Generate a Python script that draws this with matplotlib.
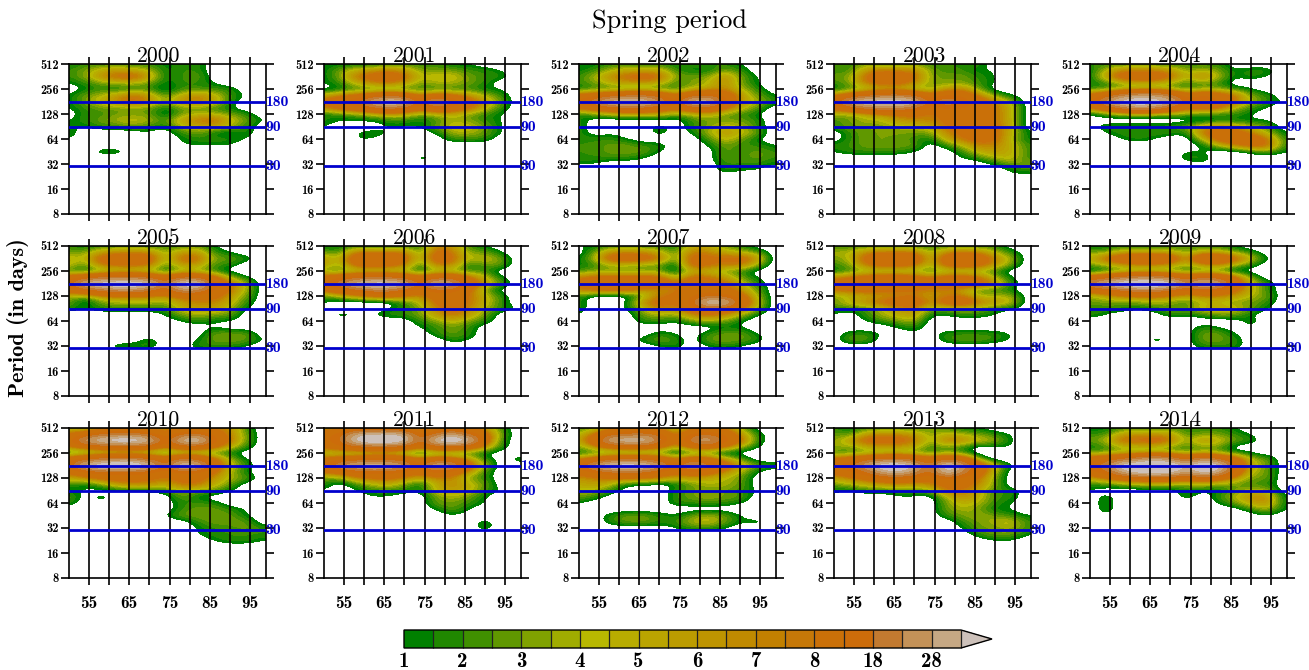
import numpy as np
import matplotlib
matplotlib.use("Agg")
import matplotlib.pyplot as plt
from matplotlib.colors import BoundaryNorm, ListedColormap
from matplotlib.cm import ScalarMappable

# wavelet power, rows from period 512 downwards in quarter octaves,
# columns are day 50, 54, ... 98. Rows left out are empty.
DAYS = np.arange(50, 99, 4)
LOG_PERIODS = 9 - 0.25 * np.arange(20)

P2000 = [[1,2,2,2,2,2,1,2,2,0,0,0,0],[2,3,5,6,5,4,1,2,2,0,0,0,0],[2,3,7,9,10,6,1,2,3,0,0,0,0],[1,2,3,4,4,3,1,2,2,1,0,0,0],
         [0,1,2,1,2,2,0,2,2,2,2,0,0],[1,3,4,6,8,6,2,5,7,5,2,1,0],[1,3,5,7,10,7,3,7,8,6,2,0,0],[1,2,3,3,3,3,1,3,3,2,1,0,0],
         [0,2,2,3,3,3,0,3,4,4,3,2,0],[1,2,3,4,5,4,2,6,8,9,5,3,1],[1,1,2,2,3,2,1,4,5,6,4,2,0],[2,0,0,0,0,1,0,2,3,1,0,2,0],
         [1,0,0,0,0,0,0,1,2,2,2,1,0],[0,0,0,0,0,0,0,1,1,1,1,0,0],[0,0,2,2,0,0,0,0,0,0,0,0,0]]
P2001 = [[1,1,1,1,2,2,2,2,1,1,0,0,0],[1,3,5,6,7,6,3,3,3,2,2,1,0],[1,3,8,10,12,9,4,5,5,3,2,2,0],[1,2,5,7,8,6,3,4,4,3,2,0,0],
         [0,1,2,2,2,2,2,2,2,2,1,1,0],[5,7,8,10,13,11,6,9,8,6,4,2,0],[9,12,18,30,42,36,12,34,18,10,6,3,0],[7,10,12,16,22,16,9,16,12,9,5,2,0],
         [1,2,3,4,5,5,3,4,5,3,2,1,0],[2,1,1,1,2,2,1,2,4,3,2,1,0],[1,0,0,0,1,1,1,3,5,5,3,1,0],[1,0,1,2,1,0,0,1,4,4,3,1,0],
         [1,0,1,1,0,0,0,0,2,2,2,0,0],[0,0,1,0,0,0,0,0,0,0,0,0,0],[0,0,1,0,0,0,0,0,0,2,0,0,0],[0,0,0,0,0,0,2,1,0,0,0,0,0]]
P2002 = [[1,1,2,2,2,2,1,2,2,2,1,0,0],[1,2,4,5,5,5,2,1,1,3,2,0,0],[2,4,7,9,11,9,3,3,3,7,3,1,0],[2,3,5,6,6,5,2,3,4,7,3,1,0],
         [1,2,2,2,2,2,2,4,5,7,4,2,0],[9,11,13,16,18,14,7,14,16,12,6,3,1],[13,24,36,40,38,26,10,38,38,14,6,4,2],[9,11,14,18,16,13,8,14,15,9,5,3,0],
         [1,3,4,5,5,5,3,4,5,3,2,1,0],[2,0,0,0,0,0,0,2,3,3,3,2,0],[2,0,0,0,0,2,0,2,3,5,4,2,0],[2,0,1,0,0,2,0,1,4,6,5,3,0],
         [2,2,2,1,0,0,0,0,2,5,3,1,0],[2,2,3,3,2,2,0,0,1,3,2,2,1],[2,2,3,3,3,1,0,0,0,3,2,3,2],[2,2,2,2,1,0,0,2,0,3,2,3,2],
         [1,1,0,0,0,0,0,0,0,2,2,2,1],[0,0,0,0,0,0,0,0,0,2,1,1,0]]
P2003 = [[2,2,3,2,2,3,2,2,2,2,0,0,0],[2,2,6,8,7,7,3,2,2,1,1,0,0],[3,3,9,11,11,9,3,3,3,2,1,0,0],[2,3,8,10,10,7,3,3,3,2,1,0,0],
         [1,2,3,4,4,3,3,6,7,3,0,0,0],[6,10,14,18,20,16,8,13,12,7,3,1,0],[14,32,40,42,42,36,14,28,16,11,7,4,0],[9,14,20,24,24,18,10,14,13,11,8,5,0],
         [4,3,5,6,8,9,7,9,11,11,8,5,0],[2,3,4,4,6,7,7,9,10,10,8,5,0],[2,3,3,3,4,4,5,8,10,10,9,5,0],[0,2,3,3,3,3,3,7,9,10,9,5,1],
         [0,2,3,3,3,2,1,5,8,10,9,4,1],[2,2,3,3,3,3,0,2,4,7,7,5,2],[1,2,2,2,2,1,0,0,2,5,6,5,2],[0,0,0,0,0,0,0,0,1,2,4,5,2],
         [0,0,0,0,0,0,2,0,0,0,1,3,3],[0,0,0,0,0,0,0,0,0,0,0,1,2],[0,0,0,0,0,0,0,0,0,0,0,1,0],[0,0,0,0,0,0,0,0,0,0,0,1,0]]
P2004 = [[2,2,2,2,2,2,2,2,2,0,0,0,0],[1,4,7,7,7,6,3,4,3,1,2,2,0],[1,6,11,12,12,9,4,8,4,1,2,1,0],[1,2,4,5,5,4,2,3,2,0,0,0,0],
         [2,2,3,3,3,3,2,3,3,2,1,0,0],[9,13,22,28,28,20,9,14,11,8,3,2,0],[10,28,40,42,40,34,14,20,13,8,4,2,1],[8,12,20,28,24,15,8,10,8,4,2,1,0],
         [0,2,3,3,3,3,3,2,2,2,1,0,0],[1,0,0,0,0,0,0,0,1,1,1,1,0],[0,2,2,2,2,2,3,6,7,6,4,3,0],[0,1,2,2,2,2,1,8,11,11,7,4,1],
         [0,0,1,2,1,0,0,4,10,12,12,8,2],[0,0,0,0,0,0,0,1,4,7,10,9,2],[0,0,0,0,0,0,1,1,0,0,1,3,1],[0,0,0,0,0,0,2,2,0,0,0,0,0],
         [0,0,0,0,0,0,0,1,0,0,0,0,0]]
P2005 = [[2,1,2,2,2,2,2,2,3,1,0,0,0],[3,3,6,7,7,7,3,6,6,2,1,0,0],[5,4,10,11,12,11,3,9,9,3,3,2,0],[5,2,8,9,9,8,2,6,6,2,2,0,0],
         [2,1,2,3,3,3,1,3,3,2,0,0,0],[10,13,16,18,18,15,9,16,14,9,4,1,0],[14,34,42,44,44,40,16,44,42,14,8,4,0],[11,15,20,26,26,20,12,28,24,13,8,4,0],
         [4,3,6,7,7,7,6,9,10,10,6,3,0],[3,0,3,4,4,4,3,6,7,7,5,2,0],[2,1,2,2,2,2,2,5,6,6,4,1,0],[0,0,0,0,0,0,1,3,4,3,3,0,0],
         [0,0,0,0,0,0,0,1,2,1,1,0,0],[0,0,0,0,0,0,0,0,0,1,0,0,0],[0,0,0,0,0,0,0,0,0,3,3,3,0],[0,0,0,0,0,2,0,0,1,3,3,3,1],
         [0,1,0,2,2,2,0,0,2,2,2,1,0]]
P2006 = [[1,1,2,1,1,2,1,7,6,2,1,0,0],[3,2,8,8,8,8,2,10,8,3,3,1,0],[6,4,12,12,12,10,3,11,9,4,5,3,0],[6,3,10,11,10,8,1,8,7,1,3,3,0],
         [3,2,3,3,3,3,1,3,3,2,2,0,0],[9,12,15,16,16,14,8,14,13,8,5,1,0],[13,22,36,42,42,34,14,38,30,12,6,3,0],[9,13,16,22,22,16,10,17,15,9,3,0,0],
         [2,4,6,8,9,8,6,10,11,8,5,2,0],[1,0,0,0,0,2,4,9,11,8,5,2,0],[1,0,0,0,1,2,3,7,10,7,4,2,1],[0,2,1,1,2,2,3,6,8,6,3,0,0],
         [0,0,0,0,0,0,2,3,5,3,2,0,0],[0,0,0,0,0,0,1,2,3,2,0,0,0],[0,0,0,0,0,0,0,2,3,2,0,0,0],[0,0,0,0,0,0,0,0,2,1,0,0,0]]
P2007 = [[1,1,2,2,2,2,1,5,5,3,2,0,0],[0,3,7,7,7,5,2,8,7,5,4,3,0],[1,4,11,11,11,8,2,10,9,9,10,7,0],[1,2,4,4,3,3,0,10,9,7,8,4,0],
         [2,3,3,3,3,3,0,5,4,3,2,0,0],[7,9,9,9,9,9,3,9,8,6,3,1,0],[10,13,15,15,14,13,8,12,10,9,5,2,0],[7,9,9,9,6,6,7,11,11,10,6,3,0],
         [2,0,0,0,3,8,9,12,16,14,10,4,0],[2,0,0,1,7,10,8,14,42,36,13,5,0],[2,0,0,1,4,8,6,11,14,12,8,4,0],[1,0,0,0,3,4,3,7,8,7,4,1,0],
         [0,0,0,0,2,2,1,3,4,3,1,0,0],[0,0,0,0,0,0,0,0,0,1,1,0,0],[0,0,0,0,0,2,1,0,2,3,3,1,0],[0,0,0,0,2,3,2,0,3,3,3,2,0],
         [0,0,0,0,0,1,2,0,1,2,1,0,0]]
P2008 = [[2,2,2,2,2,2,2,2,2,2,2,0,0],[4,4,7,8,8,8,3,7,8,7,4,2,0],[3,4,10,12,12,12,4,11,13,12,7,4,0],[2,3,8,10,10,9,3,10,11,10,6,3,0],
         [1,2,3,3,3,3,2,3,3,3,2,0,0],[6,8,10,11,11,10,7,10,10,8,4,1,0],[11,12,13,14,14,13,11,13,13,11,7,2,0],[8,9,10,9,8,8,7,7,5,2,2,1,0],
         [3,4,5,6,7,8,5,8,8,4,4,4,0],[3,5,7,9,11,12,6,11,12,8,6,5,0],[2,2,2,4,6,7,3,3,4,3,2,1,0],[1,0,2,4,5,6,1,1,2,2,1,0,0],
         [0,0,1,2,3,4,0,0,0,0,0,0,0],[0,0,0,0,1,2,0,0,0,0,0,0,0],[0,2,2,1,0,1,0,2,2,2,2,1,0],[0,3,3,0,0,0,0,2,3,3,2,1,0]]
P2009 = [[1,1,2,2,2,2,2,2,2,1,0,0,0],[3,3,5,5,5,5,3,5,5,3,2,0,0],[5,9,13,15,15,13,5,16,15,10,5,1,0],[3,4,6,7,7,6,3,6,7,4,2,0,0],
         [0,1,2,2,2,2,2,2,2,0,0,0,0],[10,13,18,22,22,18,11,16,14,9,3,0,0],[24,36,44,46,46,42,22,38,32,11,5,2,0],[11,14,18,24,24,18,12,16,14,9,5,2,0],
         [3,5,7,7,8,7,5,7,7,6,4,3,0],[3,3,3,3,4,3,2,4,4,3,3,2,0],[2,2,2,1,2,3,3,5,6,5,3,1,0],[2,1,0,0,0,2,1,2,3,3,1,0,0],
         [0,0,0,0,0,0,0,0,0,0,2,0,0],[0,0,0,0,0,0,0,2,1,0,1,0,0],[0,0,0,0,0,0,0,3,3,1,0,0,0],[0,2,0,0,2,1,0,3,3,2,0,0,0],
         [0,0,0,0,0,0,0,2,2,2,0,0,0]]
P2010 = [[4,3,6,6,6,7,5,8,7,7,7,2,0],[8,11,16,20,20,16,8,16,18,11,7,3,0],[10,30,38,44,44,36,11,36,42,15,8,3,0],[7,9,12,13,13,12,7,12,12,9,5,2,0],
         [1,2,2,2,2,2,1,2,2,2,1,0,0],[11,16,20,24,24,18,11,20,16,9,4,1,0],[13,36,44,46,46,36,13,42,34,11,5,2,0],[9,12,15,16,16,14,9,14,13,9,4,1,0],
         [5,7,9,10,10,9,7,10,10,6,4,3,0],[2,1,3,6,7,7,5,8,8,5,3,0,0],[1,1,0,1,1,1,2,4,3,3,1,0,0],[3,0,2,0,0,0,0,3,1,0,0,0,0],
         [2,0,1,0,0,0,0,2,2,2,0,0,0],[0,0,0,0,0,0,0,2,3,3,2,1,0],[0,0,0,0,0,0,1,3,3,3,3,1,0],[0,0,0,0,0,0,0,0,2,3,3,3,0],
         [0,0,0,0,0,0,2,0,1,2,2,3,2],[0,0,0,0,0,0,0,0,1,2,2,2,2],[0,0,0,0,0,0,0,0,0,1,2,2,1]]
P2011 = [[5,6,8,8,8,8,6,8,8,8,6,2,0],[11,15,30,34,36,30,11,18,30,16,10,3,0],[12,16,40,46,46,40,13,40,46,38,10,2,0],[9,12,15,16,16,14,8,14,14,11,6,2,0],
         [3,3,2,3,3,2,0,2,2,2,1,0,0],[9,11,13,15,15,13,8,11,9,6,2,0,2],[12,26,34,38,34,28,12,38,28,10,4,0,0],[8,10,13,15,15,12,9,14,11,6,2,0,0],
         [3,3,7,8,9,7,5,7,7,3,2,0,0],[2,0,2,4,5,3,1,5,7,5,3,0,0],[1,0,1,2,2,2,1,5,6,5,2,1,0],[0,0,0,1,1,0,0,3,4,3,1,0,0],
         [0,0,0,0,0,0,0,3,3,2,1,0,0],[0,0,0,0,2,0,0,1,3,1,0,0,0],[0,0,0,0,0,0,0,0,1,0,0,0,0],[0,0,0,0,0,0,0,0,0,0,2,0,0],
         [0,0,0,0,0,0,0,0,0,0,2,0,0]]
P2012 = [[2,3,7,7,7,7,3,7,8,7,4,0,0],[4,8,14,18,20,15,5,14,16,13,6,2,0],[5,12,34,38,38,22,6,24,34,15,9,2,0],[3,6,9,10,10,9,4,9,10,8,4,1,0],
         [1,2,2,2,2,2,0,2,2,0,0,0,0],[7,10,14,16,16,13,7,11,10,6,3,0,0],[13,30,40,44,40,28,12,34,20,11,6,3,2],[10,14,18,20,18,13,9,12,10,7,4,1,0],
         [6,7,8,8,8,7,5,6,5,4,3,0,0],[5,6,4,1,1,0,1,3,4,4,3,0,0],[4,4,2,0,0,0,2,3,3,3,2,1,0],[3,2,0,0,0,0,2,3,4,3,3,0,0],
         [1,0,0,0,0,0,2,2,2,2,1,0,0],[0,0,0,0,0,0,0,0,0,0,0,0,0],[0,0,2,3,3,2,1,3,4,3,1,0,0],[0,0,2,3,3,2,2,4,5,3,1,2,0],
         [0,0,0,0,0,0,1,2,2,1,0,0,0]]
P2013 = [[2,1,2,2,2,2,3,2,1,1,0,0,0],[3,2,6,7,7,6,3,5,4,3,2,1,0],[3,6,10,10,10,8,3,8,7,5,4,1,0],[4,3,5,6,6,5,2,3,2,0,1,1,0],
         [2,2,3,3,3,3,2,3,2,0,0,0,0],[9,11,14,18,20,15,10,16,13,3,0,0,0],[12,16,30,42,44,34,14,44,28,12,5,1,0],[10,13,17,30,36,26,13,40,22,11,4,0,0],
         [5,7,9,12,13,11,9,13,11,8,3,0,0],[3,4,5,6,7,6,7,10,10,7,3,0,0],[1,1,2,2,2,2,3,8,8,5,2,2,0],[1,0,0,0,1,1,0,4,7,5,2,2,0],
         [0,0,0,0,0,0,0,3,5,4,2,1,0],[0,0,0,0,0,0,0,3,4,3,1,1,0],[0,0,0,0,0,0,0,2,3,4,3,2,1],[0,2,0,0,0,0,0,0,2,3,4,5,2],
         [0,0,0,0,0,0,0,0,1,3,3,4,2],[0,0,0,0,0,0,0,0,0,2,3,3,1],[0,0,0,0,0,0,0,0,0,0,1,1,0]]
P2014 = [[1,1,2,2,2,2,2,2,2,1,0,0,0],[2,2,6,6,6,6,2,3,3,2,1,0,0],[3,4,9,9,11,8,3,7,5,3,2,0,0],[1,2,4,4,4,3,2,3,3,0,0,0,0],
         [3,3,4,4,4,4,3,4,3,2,1,0,0],[11,14,18,24,32,26,14,26,18,11,4,3,0],[14,22,40,44,46,44,30,46,40,14,5,3,0],[12,16,30,40,42,40,26,40,32,12,4,3,0],
         [5,8,10,12,13,12,10,13,10,6,3,3,0],[2,2,3,4,4,4,3,4,3,3,2,2,0],[1,0,0,0,0,0,2,1,1,3,4,4,0],[0,2,0,0,0,0,2,0,2,4,7,7,1],
         [0,2,0,0,0,0,0,0,1,3,5,7,1],[0,2,0,0,0,0,0,0,0,0,2,4,1],[0,1,0,0,0,0,0,0,0,0,0,1,0]]

YEARS = list(range(2000, 2015))
POWER = [P2000, P2001, P2002, P2003, P2004, P2005, P2006, P2007, P2008, P2009, P2010, P2011, P2012, P2013, P2014]

LEVELS = [1, 1.5, 2, 2.5, 3, 3.5, 4, 4.5, 5, 5.5, 6, 6.5, 7, 7.5, 8, 13, 18, 23, 28, 33]
CBAR_TICKS = [1, 2, 3, 4, 5, 6, 7, 8, 18, 28]
COLORS = ["#008000", "#208800", "#409000", "#609800", "#80a200", "#a0ac00", "#b8b800", "#b8ac00", "#baa400",
          "#bc9c00", "#be9400", "#c08a00", "#c28000", "#c67808", "#ca7008", "#cc6c0a", "#c27a30", "#c49258", "#c6a884"]
OVER_COLOR = "#cdc1ba"
BLUE = "#0000cd"
REF_PERIODS = [180, 90, 30]

W, H = 1309, 670
LEFTS = [69, 324, 579, 834, 1090]
TOPS = [64, 246, 428]
AX_W, AX_H = 197, 150


def px_axes(fig, x0, y0, w, h):
    # position given in picture pixels, y from the top
    return fig.add_axes([x0 / W, 1 - (y0 + h) / H, w / W, h / H])


def draw_panel(ax, grid, year, labels):
    z = np.zeros((len(LOG_PERIODS), len(DAYS)))
    z[:len(grid)] = grid
    ax.imshow(z, extent=(48, 100, 4.125, 9.125), origin="upper", aspect="auto", cmap=cmap, norm=norm,
              interpolation="bicubic", interpolation_stage="data", zorder=0)
    ax.set_xlim(50, 99)
    ax.set_ylim(3, 9)
    ax.set_xticks(np.arange(55, 96, 5))
    ax.set_xticklabels([str(d) if d % 10 == 5 and labels else "" for d in range(55, 96, 5)],
                       family="cmb10", fontsize=12.5)
    ax.set_yticks(np.arange(3, 10))
    ax.set_yticklabels([str(2 ** i) for i in range(3, 10)], family="cmb10", fontsize=9)
    ax.tick_params(axis="x", direction="out", length=5.3, width=1.2, top=True, bottom=True, pad=8)
    ax.tick_params(axis="y", direction="out", length=5.5, width=1.2, left=True, right=True, pad=2)
    ax.grid(axis="x", color="black", linewidth=1.2)
    ax.set_axisbelow(False)
    for s in ax.spines.values():
        s.set_linewidth(1.2)
    for p in REF_PERIODS:
        ax.axhline(np.log2(p), color=BLUE, linewidth=2.0, zorder=3)
        ax.text(98.9, np.log2(p), str(p), color=BLUE, family="cmb10", fontsize=11.3, ha="left", va="center",
                clip_on=False, zorder=6)
    ax.text(50 + 90 / 197 * 49, 9.32, str(year), family="cmr10", fontsize=15.5, ha="center", va="center", zorder=7)


cmap = ListedColormap(COLORS)
cmap.set_under("white")
cmap.set_over(OVER_COLOR)
norm = BoundaryNorm(LEVELS, len(COLORS), extend="neither")
# values under the first level stay white, above the last go to the arrow colour

fig = plt.figure(figsize=(W / 100, H / 100), dpi=100)

for i, (year, grid) in enumerate(zip(YEARS, POWER)):
    row, col = divmod(i, 5)
    ax = px_axes(fig, LEFTS[col], TOPS[row], AX_W, AX_H)
    draw_panel(ax, grid, year, row == 2)

fig.text(670 / W, 1 - 21 / H, "Spring period", family="cmr10", fontsize=19, ha="center", va="center")
fig.text(18 / W, 1 - 318 / H, "Period (in days)", family="cmb10", fontsize=16, rotation=90, ha="center", va="center")

cax = px_axes(fig, 404, 630, 588, 18)
cb = fig.colorbar(ScalarMappable(norm=norm, cmap=cmap), cax=cax, orientation="horizontal", extend="max",
                  spacing="uniform", extendfrac=31 / 557, drawedges=True, ticks=CBAR_TICKS)
cb.ax.set_xticklabels([str(t) for t in CBAR_TICKS], family="cmb10", fontsize=15)
cb.ax.tick_params(length=0, pad=3)
cb.ax.minorticks_off()
cb.outline.set_linewidth(1.0)
cb.dividers.set_color("#222222")
cb.dividers.set_linewidth(0.9)

fig.savefig("out.png", dpi=100)
